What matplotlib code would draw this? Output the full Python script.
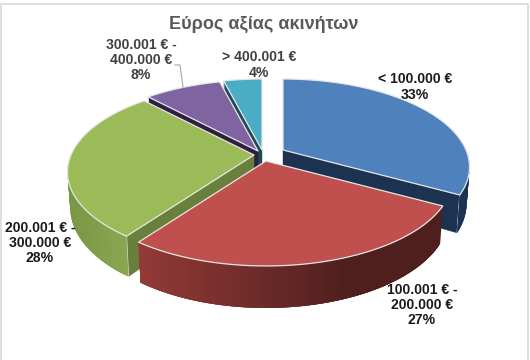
import numpy as np
import matplotlib
matplotlib.use('Agg')
import matplotlib.pyplot as plt
from matplotlib.patches import Polygon

plt.rcParams['font.family'] = ['Liberation Sans', 'DejaVu Sans']

# data, clockwise from 12 o'clock
title = 'Εύρος αξίας ακινήτων'
categories = ['< 100.000 €', '100.001 € -\n200.000 €', '200.001 € -\n300.000 €',
              '300.001 € -\n400.000 €', '> 400.001 €']
shares = [33, 27, 28, 8, 4]

# look of the slices
top_colors = ['#4f81bd', '#c0504d', '#9bbb59', '#8064a2', '#4bacc6']
cut_colors = ['#1b3350', '#4e1f1d', '#697f3c', '#2f2040', '#1f4a55']
wall_left = ['#1b3350', '#933a37', '#7a9647', '#2f2040', '#1f4a55']
wall_right = ['#1b3350', '#4e1f1d', '#8aa852', '#2f2040', '#1f4a55']
apex = [(283, 150), (266, 161), (254, 155), (258, 151), (262, 150)]
label_pos = [(415, 87), (422, 305), (40, 243), (141, 60), (259, 65)]
label_colors = ['#1a1a1a', '#1a1a1a', '#1a1a1a', '#404040', '#404040']

# pie projection
rx = 183.0
ry = 84.7
persp = 0.193


def project(theta, center, r=1.0):
    u = r*np.sin(theta)
    v = r*np.cos(theta)
    w = 1 + persp*v
    return center[0] + rx*u/w, center[1] - ry*v/w


def lower(x, y, theta, center, r=1.0):
    # bottom rim, shifted down and slightly towards the axis
    depth = 34 - 8*r*np.cos(theta)
    return center[0] + (x - center[0])*0.985, y + depth


def mix(c1, c2, t):
    a = np.array(matplotlib.colors.to_rgb(c1))
    b = np.array(matplotlib.colors.to_rgb(c2))
    return a + (b - a)*t


fig = plt.figure(figsize=(5.3, 3.6), dpi=100)
ax = fig.add_axes([0, 0, 1, 1])
ax.set_xlim(0, 530)
ax.set_ylim(360, 0)
ax.axis('off')

# chart frame
ax.plot([1, 1, 528, 528], [360, 3.5, 3.5, 360], color='#d9d9d9', lw=1.2, zorder=1)

edges = np.cumsum([0] + shares)/sum(shares)*2*np.pi
z = 2
for i in [4, 3, 0, 2, 1]:
    t1, t2 = edges[i], edges[i + 1]
    c = apex[i]
    th = np.linspace(t1, t2, 120)
    x, y = project(th, c)
    xl, yl = lower(x, y, th, c)

    # cut faces that look towards the viewer
    for t, seen in [(t1, np.sin(t1) < -1e-6), (t2, np.sin(t2) > 1e-6)]:
        if seen:
            px, py = project(t, c)
            qx, qy = lower(px, py, t, c)
            ax.add_patch(Polygon([c, (px, py), (qx, qy), (c[0], c[1] + 34)], closed=True,
                                 fc=cut_colors[i], ec=cut_colors[i], lw=0.3, zorder=z))
            ax.plot([px, qx], [py, qy], color='#e4e4e4', lw=0.8, zorder=z + 0.5)
    z += 1

    # outer wall, front part only; quads overlap so no seams show
    vis = np.where(np.cos(th) < 0.12)[0]
    for j in vis[:-1]:
        k = min(j + 3, vis[-1])
        col = mix(wall_left[i], wall_right[i], np.clip((x[j] - 140)/300*1.4, 0, 1))
        if i == 2:
            col = mix(wall_left[i], wall_right[i], np.clip((x[j] - 70)/60, 0, 1))
        ax.add_patch(Polygon([(x[j], y[j]), (x[k], y[k]), (xl[k], yl[k]), (xl[j], yl[j])],
                             closed=True, fc=col, ec='none', zorder=z))
        z += 0.001
    z += 1

    # top surface
    ax.add_patch(Polygon(np.vstack([[c], np.column_stack([x, y])]), closed=True, fc=top_colors[i],
                         ec='#e6e6e6', lw=0.9, joinstyle='round', zorder=z))
    z += 1

ax.text(264, 24, title, ha='center', va='center', fontsize=13, fontweight='bold', color='#595959', zorder=z)

# leader of the purple label
ax.plot([175, 180, 183], [65, 65, 87], color='#a6a6a6', lw=0.8, zorder=z)

for name, share, pos, col in zip(categories, shares, label_pos, label_colors):
    ax.text(pos[0], pos[1], f'{name}\n{share}%', ha='center', va='center', fontsize=10.1,
            fontweight='bold', color=col, linespacing=1.1, zorder=z + 1)

fig.savefig('out.png', dpi=100)
